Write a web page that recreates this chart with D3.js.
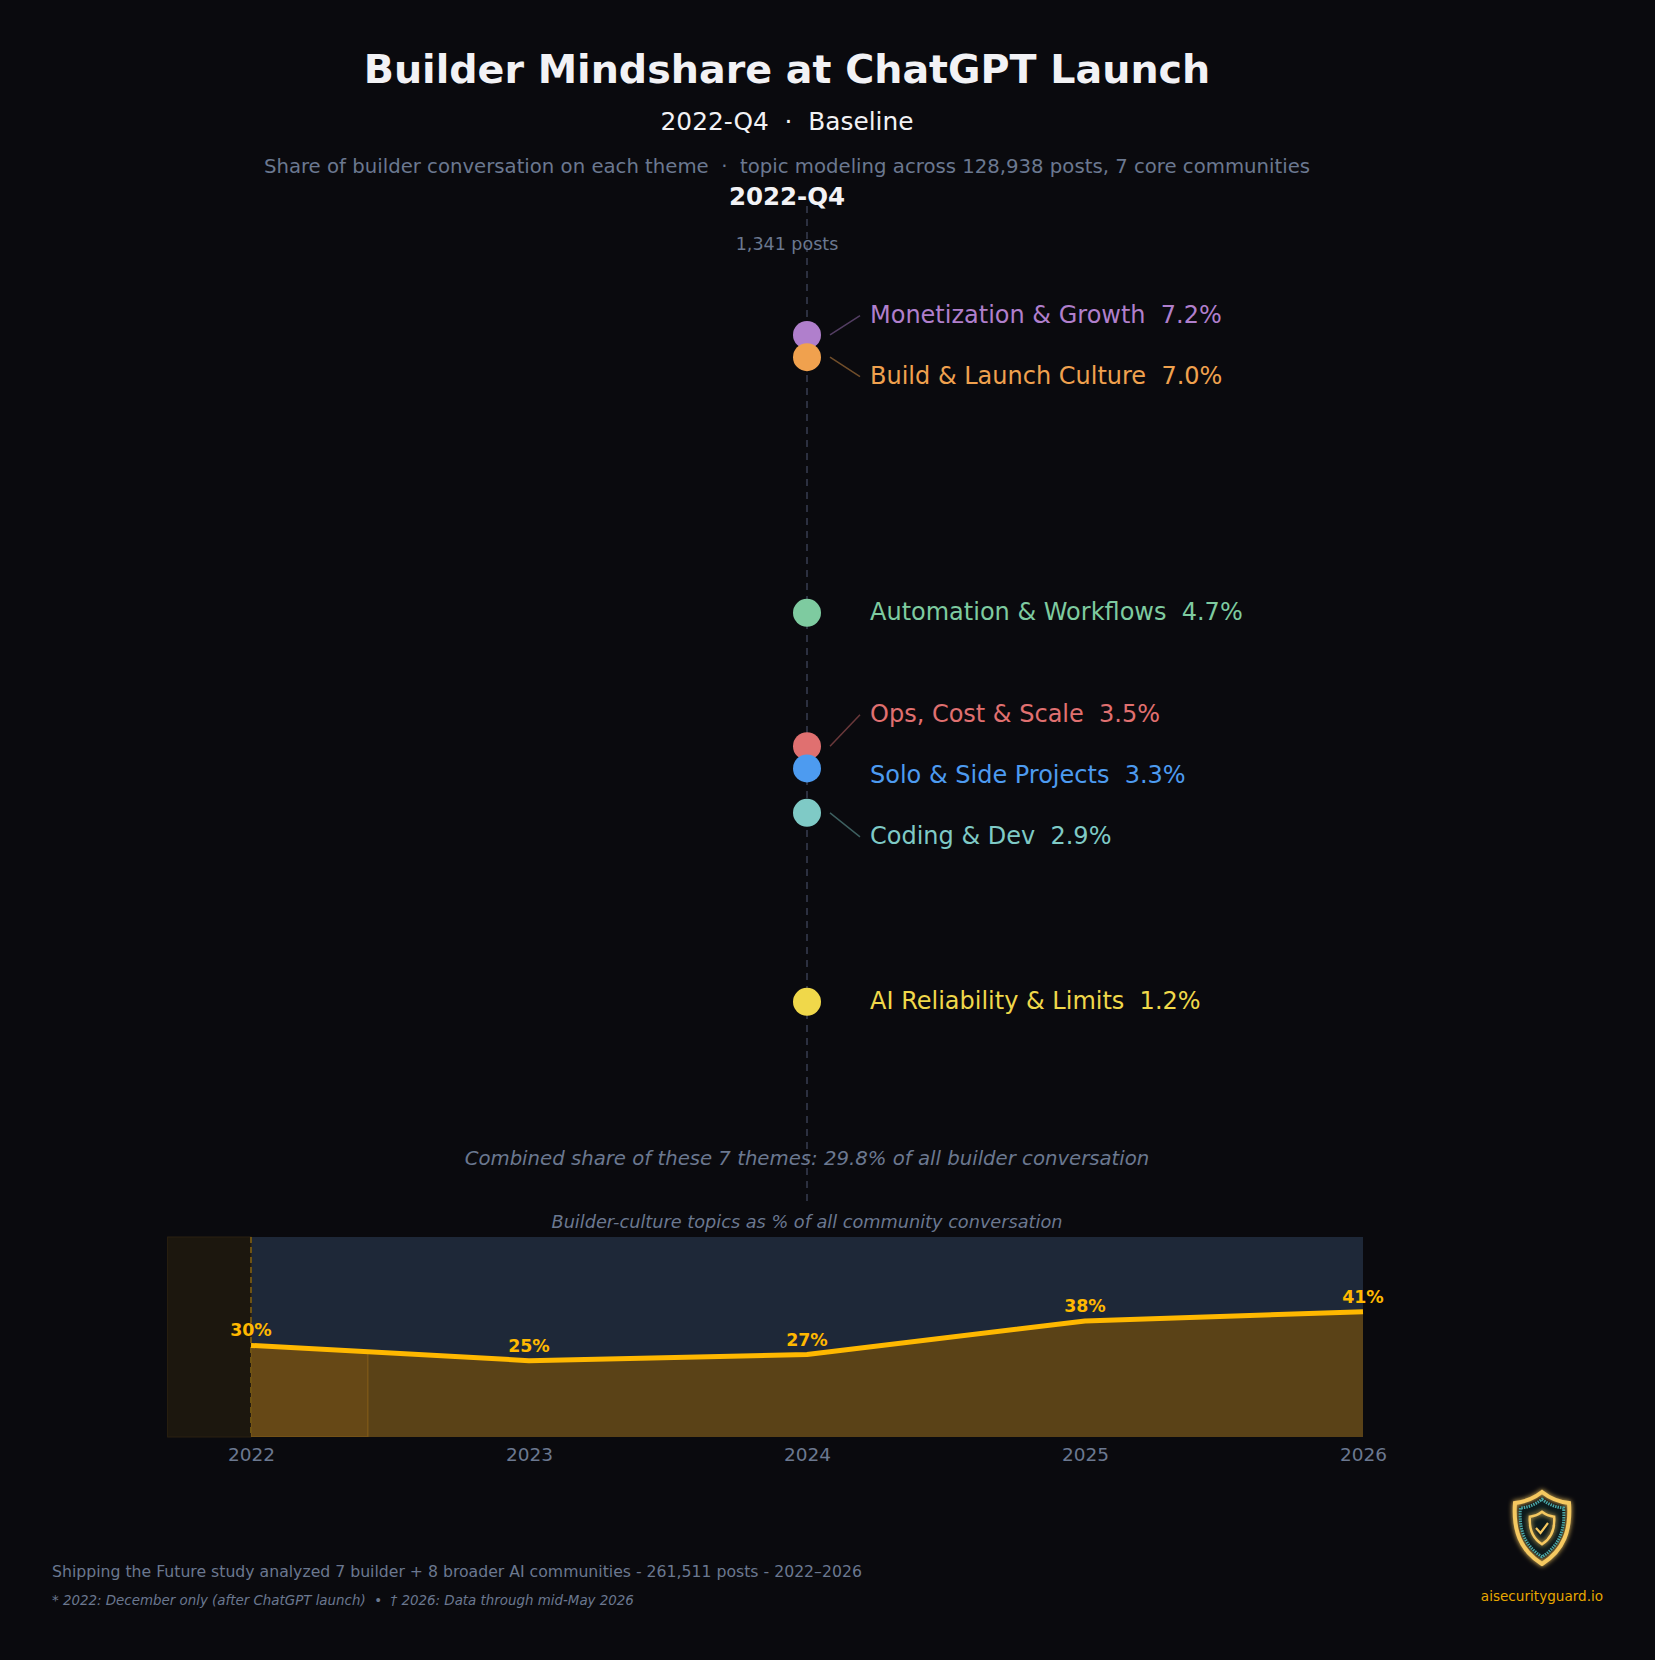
<!DOCTYPE html>
<html>
<head>
<meta charset="utf-8">
<script src="https://cdn.jsdelivr.net/npm/d3@7"></script>
<style>
  html, body { margin: 0; padding: 0; background: #0a0a0e; }
  svg { display: block; }
  text { font-family: "DejaVu Sans", sans-serif; white-space: pre; }
</style>
</head>
<body>
<svg id="chart" width="1655" height="1660" xml:space="preserve"></svg>
<script>
// ---- Data ----
const themes = ["Monetization & Growth", "Build & Launch Culture", "Automation & Workflows",
                "Ops, Cost & Scale", "Solo & Side Projects", "Coding & Dev", "AI Reliability & Limits"];
const shares = [7.2, 7.0, 4.7, 3.5, 3.3, 2.9, 1.2];
const themeColors = ["#b07fcc", "#f0a14e", "#7ecba0", "#e07070", "#4d9bf0", "#7fcac6", "#f0d84a"];

const trendYears = [2022, 2023, 2024, 2025, 2026];
const trendValues = [30, 25, 27, 38, 41];
const trendLabels = ["30%", "25%", "27%", "38%", "41%"];

const quarter = "2022-Q4";
const quarterPosts = "1,341 posts";
const combinedShare = 29.8;

// ---- Setup ----
const W = 1655, H = 1660;
const svg = d3.select("#chart");
svg.append("rect").attr("width", W).attr("height", H).attr("fill", "#0a0a0e");

const cx = 807;

// Titles
svg.append("text").attr("x", 787).attr("y", 72).attr("text-anchor", "middle")
  .attr("dominant-baseline", "middle")
  .attr("font-size", 39.6).attr("font-weight", "bold").attr("fill", "#f2f2f5")
  .text("Builder Mindshare at ChatGPT Launch");
svg.append("text").attr("x", 787).attr("y", 123).attr("text-anchor", "middle")
  .attr("dominant-baseline", "middle")
  .attr("font-size", 24.8).attr("fill", "#f2f2f5")
  .text("2022-Q4  \u00b7  Baseline");
svg.append("text").attr("x", 787).attr("y", 167).attr("text-anchor", "middle")
  .attr("dominant-baseline", "middle")
  .attr("font-size", 19.7).attr("fill", "#6b7890")
  .text("Share of builder conversation on each theme  \u00b7  topic modeling across 128,938 posts, 7 core communities");

// Vertical dashed axis
svg.append("line").attr("x1", cx).attr("x2", cx).attr("y1", 206).attr("y2", 1202)
  .attr("stroke", "#2c3040").attr("stroke-width", 2).attr("stroke-dasharray", "7,6");

svg.append("text").attr("x", 787).attr("y", 198).attr("text-anchor", "middle")
  .attr("dominant-baseline", "middle")
  .attr("font-size", 24.5).attr("font-weight", "bold").attr("fill", "#f2f2f5")
  .text(quarter);
svg.append("text").attr("x", 787).attr("y", 245).attr("text-anchor", "middle")
  .attr("dominant-baseline", "middle")
  .attr("font-size", 17.5).attr("fill", "#6b7890")
  .text(quarterPosts);

// Scale for shares
const y = d3.scaleLinear().domain([0, 8]).range([1135.2, 246]);

const items = themes.map((t, i) => ({ name: t, value: shares[i], color: themeColors[i], dy: y(shares[i]) }));
items.sort((a, b) => a.dy - b.dy);

// Label placement: clusters with min spacing
const gap = 61;
let groups = items.map(d => ({ members: [d], center: d.dy }));
let changed = true;
function groupTop(g) { return g.center - (g.members.length - 1) * gap / 2; }
function groupBottom(g) { return g.center + (g.members.length - 1) * gap / 2; }
while (changed) {
  changed = false;
  for (let i = 0; i < groups.length - 1; i++) {
    if (groupTop(groups[i + 1]) - groupBottom(groups[i]) < gap) {
      const m = groups[i].members.concat(groups[i + 1].members);
      groups.splice(i, 2, { members: m, center: d3.mean(m, d => d.dy) });
      changed = true;
      break;
    }
  }
}
groups.forEach(g => {
  const top = groupTop(g);
  g.members.forEach((d, k) => { d.ly = top + k * gap; });
});

const labelX = 870;
const gItems = svg.append("g");
items.forEach(d => {
  if (Math.abs(d.ly - d.dy) > 10) {
    gItems.append("line").attr("x1", cx + 23).attr("y1", d.dy).attr("x2", labelX - 10).attr("y2", d.ly)
      .attr("stroke", d.color).attr("stroke-opacity", 0.45).attr("stroke-width", 1.5);
  }
});
items.forEach(d => {
  gItems.append("circle").attr("cx", cx).attr("cy", d.dy).attr("r", 14).attr("fill", d.color);
});
items.forEach(d => {
  gItems.append("text").attr("x", labelX).attr("y", d.ly).attr("dominant-baseline", "middle")
    .attr("font-size", 24).attr("fill", d.color)
    .text(d.name + "  " + d.value.toFixed(1) + "%");
});

svg.append("text").attr("x", cx).attr("y", 1159).attr("text-anchor", "middle")
  .attr("dominant-baseline", "middle")
  .attr("font-size", 19.7).attr("font-style", "italic").attr("fill", "#6b7890")
  .text("Combined share of these 7 themes: " + combinedShare.toFixed(1) + "% of all builder conversation");

// ---- Bottom trend panel ----
const pTop = 1237, pBot = 1437;
const x = d3.scaleLinear().domain([2022, 2026]).range([251, 1363]);
const yp = d3.scaleLinear().domain([0, 65.5]).range([pBot, pTop]);
const pLeft = x(2021.7);

svg.append("text").attr("x", cx).attr("y", 1223).attr("text-anchor", "middle")
  .attr("dominant-baseline", "middle")
  .attr("font-size", 17.7).attr("font-style", "italic").attr("fill", "#6b7890")
  .text("Builder-culture topics as % of all community conversation");

svg.append("rect").attr("x", x(2022)).attr("y", pTop).attr("width", x(2026) - x(2022)).attr("height", pBot - pTop)
  .attr("fill", "#1e2838");
svg.append("rect").attr("x", pLeft).attr("y", pTop).attr("width", x(2022) - pLeft).attr("height", pBot - pTop)
  .attr("fill", "#1c170e").attr("stroke", "#2a2110").attr("stroke-width", 1);

const pts = trendYears.map((yr, i) => [yr, trendValues[i]]);
const area = d3.area().x(d => x(d[0])).y0(pBot).y1(d => yp(d[1]));
const line = d3.line().x(d => x(d[0])).y(d => yp(d[1]));

svg.append("clipPath").attr("id", "areaClip").append("path").attr("d", area(pts));
svg.append("path").attr("d", area(pts)).attr("fill", "#5a4217");
svg.append("rect").attr("clip-path", "url(#areaClip)")
  .attr("x", x(2022)).attr("y", pTop).attr("width", x(2022.42) - x(2022)).attr("height", pBot - pTop)
  .attr("fill", "#664816").attr("stroke", "#7a5618").attr("stroke-width", 1.5);

svg.append("line").attr("x1", x(2022)).attr("x2", x(2022)).attr("y1", pTop).attr("y2", pBot)
  .attr("stroke", "#6e5212").attr("stroke-width", 2).attr("stroke-dasharray", "6,4");

svg.append("path").attr("d", line(pts)).attr("fill", "none").attr("stroke", "#ffb800")
  .attr("stroke-width", 5).attr("stroke-linejoin", "round");

svg.append("g").selectAll("text").data(pts).join("text")
  .attr("x", d => x(d[0])).attr("y", d => yp(d[1]) - 14).attr("text-anchor", "middle")
  .attr("dominant-baseline", "middle")
  .attr("font-size", 17.4).attr("font-weight", "bold").attr("fill", "#ffb800")
  .text((d, i) => trendLabels[i]);

const xAxis = d3.axisBottom(x).tickValues(trendYears).tickFormat(d3.format("d")).tickSize(0).tickPadding(8);
const ax = svg.append("g").attr("transform", `translate(0,${pBot})`).call(xAxis);
ax.select(".domain").remove();
ax.selectAll("text").attr("font-size", 18.5).attr("fill", "#6b7890").attr("font-family", "DejaVu Sans, sans-serif")
  .attr("dy", "0.85em");

// ---- Footer ----
svg.append("text").attr("x", 52).attr("y", 1572).attr("dominant-baseline", "middle")
  .attr("font-size", 15.7).attr("fill", "#6b7890")
  .text("Shipping the Future study analyzed 7 builder + 8 broader AI communities - 261,511 posts - 2022\u20132026");
svg.append("text").attr("x", 52).attr("y", 1601).attr("dominant-baseline", "middle")
  .attr("font-size", 13.4).attr("font-style", "italic").attr("fill", "#6b7890")
  .text("* 2022: December only (after ChatGPT launch)  \u2022  \u2020 2026: Data through mid-May 2026");

// Logo
const logo = svg.append("g").attr("transform", "translate(1542,1528)");
const defs = svg.append("defs");
const f = defs.append("filter").attr("id", "glow").attr("x", "-50%").attr("y", "-50%").attr("width", "200%").attr("height", "200%");
f.append("feGaussianBlur").attr("stdDeviation", 2.5).attr("result", "b");
const fm = f.append("feMerge");
fm.append("feMergeNode").attr("in", "b");
fm.append("feMergeNode").attr("in", "SourceGraphic");
function shield(s) {
  return `M0,${-36 * s} C${10 * s},${-28 * s} ${18 * s},${-26 * s} ${27 * s},${-25 * s} C${29 * s},${2 * s} ${22 * s},${22 * s} 0,${36 * s} C${-22 * s},${22 * s} ${-29 * s},${2 * s} ${-27 * s},${-25 * s} C${-18 * s},${-26 * s} ${-10 * s},${-28 * s} 0,${-36 * s} Z`;
}
logo.append("path").attr("d", shield(1)).attr("fill", "none").attr("stroke", "#f5c860").attr("stroke-width", 4).attr("filter", "url(#glow)");
logo.append("path").attr("d", shield(0.8)).attr("fill", "#0c1a1c").attr("stroke", "#4aa8a8").attr("stroke-width", 3).attr("stroke-dasharray", "1.5,1");
logo.append("path").attr("d", shield(0.45)).attr("fill", "none").attr("stroke", "#f5c860").attr("stroke-width", 2.5).attr("filter", "url(#glow)");
logo.append("path").attr("d", "M-6,0 L-1.5,5 L6,-5").attr("fill", "none").attr("stroke", "#f5c860").attr("stroke-width", 2.2);
svg.append("text").attr("x", 1542).attr("y", 1597).attr("text-anchor", "middle").attr("dominant-baseline", "middle")
  .attr("font-size", 13.6).attr("fill", "#e8a800").text("aisecurityguard.io");
</script>
</body>
</html>
